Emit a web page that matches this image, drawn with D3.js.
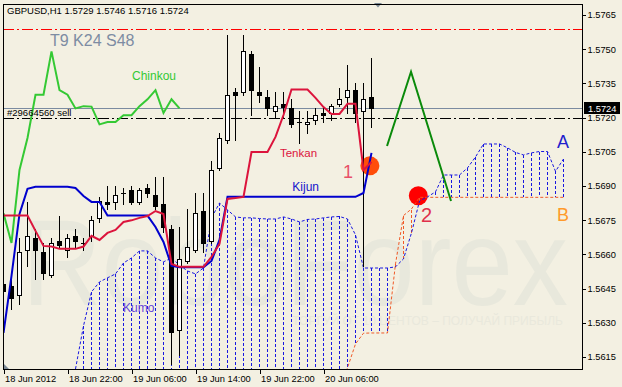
<!DOCTYPE html>
<html>
<head>
<meta charset="utf-8">
<script src="https://cdn.jsdelivr.net/npm/d3@7"></script>
<style>
body { margin: 0; background: #f3f0e2; }
svg { display: block; font-family: "Liberation Sans", Arial, sans-serif; }
</style>
</head>
<body>
<div id="chart-container"></div>
<script>
// GBPUSD H1 candles, 18 Jun 2012 14:00 .. 20 Jun 2012 12:00
var opens  = [1.5647,1.5646,1.5642,1.5662,1.5667,1.5661,1.5651,1.5666,1.5662,1.5668,1.5665,1.5668,1.5676,1.5683,1.5683,1.5687,1.5688,1.5683,1.5689,1.5686,1.5682,1.5671,1.5627,1.5657,1.5662,1.5679,1.5666,1.5698,1.5710,1.5731,1.5731,1.5748,1.5731,1.5729,1.5723,1.5726,1.5724,1.5718,1.5717,1.5719,1.5722,1.5722,1.5726,1.5729,1.5732,1.5723,1.5729];
var highs  = [1.5660,1.5652,1.5667,1.5683,1.5671,1.5665,1.5667,1.5677,1.5669,1.5671,1.5667,1.5677,1.5685,1.5690,1.5690,1.5689,1.5690,1.5689,1.5691,1.5694,1.5694,1.5673,1.5672,1.5680,1.5687,1.5687,1.5701,1.5713,1.5756,1.5733,1.5756,1.5749,1.5742,1.5732,1.5731,1.5731,1.5728,1.5723,1.5723,1.5724,1.5725,1.5726,1.5733,1.5743,1.5735,1.5735,1.5746];
var lows   = [1.5638,1.5636,1.5638,1.5655,1.5649,1.5649,1.5650,1.5663,1.5659,1.5663,1.5662,1.5666,1.5674,1.5680,1.5680,1.5682,1.5682,1.5682,1.5685,1.5680,1.5670,1.5612,1.5616,1.5656,1.5661,1.5661,1.5665,1.5697,1.5709,1.5710,1.5730,1.5721,1.5727,1.5721,1.5720,1.5720,1.5716,1.5709,1.5713,1.5717,1.5718,1.5719,1.5725,1.5722,1.5718,1.5655,1.5716];
var closes = [1.5644,1.5641,1.5661,1.5668,1.5662,1.5652,1.5665,1.5664,1.5667,1.5666,1.5665,1.5675,1.56835,1.5682,1.5686,1.5687,1.5683,1.5688,1.5687,1.5681,1.5672,1.5626,1.5658,1.5663,1.5678,1.5665,1.5697,1.5711,1.5730,1.5730,1.5749,1.5732,1.5730,1.5724,1.5725,1.57248,1.5717,1.5718,1.5718,1.5721,1.5721,1.5725,1.5728,1.5732,1.5722,1.5728,1.5724];

// ichimoku lines
var tenkan = [1.56770,1.56770,1.56770,1.56770,1.56703,1.56637,1.56634,1.56624,1.56624,1.56624,1.56634,1.56681,1.56663,1.56694,1.56707,1.56742,1.56749,1.56760,1.56768,1.56790,1.56777,1.56558,1.56545,1.56545,1.56545,1.56545,1.56589,1.56646,1.56843,1.56847,1.56852,1.57049,1.57049,1.57049,1.57115,1.57211,1.57323,1.57323,1.57323,1.57286,1.57246,1.57216,1.57216,1.57260,1.57260,1.56970,1.57005];
var kijun  = [1.56255,1.56505,1.56777,1.56887,1.56896,1.56896,1.56896,1.56896,1.56896,1.56891,1.56856,1.56830,1.56830,1.56770,1.56770,1.56770,1.56770,1.56770,1.56770,1.56720,1.56654,1.56549,1.56543,1.56543,1.56543,1.56543,1.56571,1.56663,1.56852,1.56852,1.56852,1.56852,1.56852,1.56852,1.56852,1.56852,1.56852,1.56852,1.56852,1.56852,1.56852,1.56852,1.56852,1.56852,1.56852,1.56869,1.57045];
var chinkouShift = 24;

// senkou spans start at bar 9 and run 24 bars past the last candle
var spanStart = 9;
var spanA = [1.56097,1.56286,1.56435,1.56479,1.56497,1.56514,1.56562,1.56584,1.56615,1.56615,1.56584,1.56567,1.56584,1.56553,1.56527,1.56514,1.56540,1.56760,1.56825,1.56795,1.56764,1.56760,1.56760,1.56757,1.56755,1.56755,1.56764,1.56755,1.56742,1.56753,1.56755,1.56760,1.56764,1.56766,1.56755,1.56685,1.56540,1.56540,1.56540,1.56540,1.56545,1.56580,1.56694,1.56834,1.56852,1.56874,1.56948,1.56948,1.56948,1.56979,1.57027,1.57084,1.57084,1.57084,1.57067,1.57047,1.57036,1.57045,1.57051,1.57051,1.56964,1.57018];
var spanB = [1.5600,1.5600,1.5600,1.5600,1.5600,1.5600,1.5600,1.5600,1.5600,1.5600,1.5600,1.5600,1.5600,1.5600,1.5600,1.5600,1.5600,1.5600,1.5600,1.5600,1.5600,1.5600,1.5600,1.5600,1.5600,1.5600,1.5600,1.5600,1.5600,1.5600,1.5600,1.5600,1.5600,1.5600,1.56102,1.56207,1.56254,1.56255,1.56255,1.56255,1.56558,1.56770,1.56799,1.56850,1.56850,1.56850,1.56850,1.56850,1.56850,1.56850,1.56850,1.56850,1.56850,1.56850,1.56850,1.56850,1.56850,1.56850,1.56850,1.56850,1.56850,1.56850];

var timeTicks  = [0, 8, 16, 24, 32, 40];
var timeLabels = ["18 Jun 2012", "18 Jun 22:00", "19 Jun 06:00", "19 Jun 14:00", "19 Jun 22:00", "20 Jun 06:00"];
var priceTicks = [1.5615, 1.5630, 1.5645, 1.5660, 1.5675, 1.5690, 1.5705, 1.5720, 1.5735, 1.5750, 1.5765];

var bidPrice = 1.5724, orderPrice = 1.5720, stopPrice = 1.57587;

// analyst marks (bar index, price)
var circles = [{i: 45.8, p: 1.56988, c: "#ff4d0a"}, {i: 51.85, p: 1.56857, c: "#ff0000"}];
var forecast = [{i: 47.94, p: 1.57075}, {i: 50.94, p: 1.57401}, {i: 55.94, p: 1.56834}];
var labels = [
    {t: "Chinkou", i: 16.06, p: 1.57365, c: "#34c934", s: 12},
    {t: "Tenkan", i: 34.56, p: 1.57027, c: "#dc143c", s: 11.5},
    {t: "Kijun", i: 36.1, p: 1.56878, c: "#1414cc", s: 12},
    {t: "Kumo", i: 14.94, p: 1.56347, c: "#6446d8", s: 12},
    {t: "1", i: 42.44, p: 1.56935, c: "#e85068", s: 18},
    {t: "2", i: 52.19, p: 1.56742, c: "#e0304a", s: 20},
    {t: "A", i: 69.19, p: 1.57067, c: "#2020cc", s: 18},
    {t: "B", i: 69.19, p: 1.56746, c: "#ff9a2a", s: 18}
];

var width = 622, height = 387;
var plotLeft = 3, plotRight = 583, plotTop = 4, plotBottom = 369;

var svg = d3.select("#chart-container")
    .append("svg")
    .attr("width", width)
    .attr("height", height);

svg.append("rect").attr("width", width).attr("height", height).attr("fill", "#f3f0e2");

var x = d3.scaleLinear().domain([0, 70]).range([3.5, 563.5]);
var y = d3.scaleLinear().domain([1.56097, 1.57698]).range([plotBottom, plotTop]);

svg.append("clipPath").attr("id", "clip")
    .append("rect").attr("x", plotLeft).attr("y", plotTop)
    .attr("width", plotRight - plotLeft).attr("height", plotBottom - plotTop);

var plot = svg.append("g").attr("clip-path", "url(#clip)");

// watermark
plot.append("text")
    .attr("x", 22).attr("y", 305)
    .attr("font-size", 122).attr("fill", "#e8e8dc")
    .attr("textLength", 546).attr("lengthAdjust", "spacingAndGlyphs")
    .text("RoboForex");
plot.append("text")
    .attr("x", 563).attr("y", 325).attr("text-anchor", "end")
    .attr("font-size", 12).attr("fill", "#e9e8dc")
    .text("ТОРГУЙ ОТ 10 ЦЕНТОВ – ПОЛУЧАЙ ПРИБЫЛЬ");

// circles behind everything
plot.selectAll("circle.mark").data(circles).enter()
    .append("circle").attr("class", "mark")
    .attr("cx", function(d) { return x(d.i); })
    .attr("cy", function(d) { return y(d.p); })
    .attr("r", 9.5)
    .attr("fill", function(d) { return d.c; });

function hline(p, color, dash) {
    var yy = Math.round(y(p)) + 0.5;
    plot.append("line")
        .attr("x1", plotLeft).attr("x2", plotRight).attr("y1", yy).attr("y2", yy)
        .attr("stroke", color).attr("stroke-width", 1)
        .attr("stroke-dasharray", dash)
        .attr("shape-rendering", "crispEdges");
}
hline(stopPrice, "#ff0000", "11,3,2,3");
hline(orderPrice, "#000000", "11,3,2,3");
hline(bidPrice, "#7b8ba0", null);

// kumo hatch
var cloud = plot.append("g");
spanA.forEach(function(a, k) {
    var b = spanB[k];
    cloud.append("line")
        .attr("x1", x(k + spanStart)).attr("x2", x(k + spanStart))
        .attr("y1", y(a)).attr("y2", y(b))
        .attr("stroke", a >= b ? "#1818e0" : "#f05a28")
        .attr("stroke-width", 1)
        .attr("stroke-dasharray", "3,2")
        .attr("shape-rendering", "crispEdges");
});

var spanLine = d3.line()
    .x(function(d, k) { return x(k + spanStart); })
    .y(function(d) { return y(d); });
cloud.append("path").datum(spanB)
    .attr("fill", "none").attr("stroke", "#f05a28").attr("stroke-width", 1)
    .attr("stroke-dasharray", "3,2").attr("d", spanLine);
cloud.append("path").datum(spanA)
    .attr("fill", "none").attr("stroke", "#1818e0").attr("stroke-width", 1)
    .attr("stroke-dasharray", "3,2").attr("d", spanLine);

// candles
var bars = plot.append("g").attr("shape-rendering", "crispEdges");
opens.forEach(function(o, i) {
    var c = closes[i];
    bars.append("line")
        .attr("x1", x(i)).attr("x2", x(i))
        .attr("y1", Math.round(y(highs[i]))).attr("y2", Math.round(y(lows[i])) + 1)
        .attr("stroke", "#000");
    var t = Math.round(y(Math.max(o, c))), b = Math.round(y(Math.min(o, c)));
    if (b - t < 1) {
        bars.append("line")
            .attr("x1", x(i) - 2.5).attr("x2", x(i) + 2.5)
            .attr("y1", t + 0.5).attr("y2", t + 0.5)
            .attr("stroke", "#000");
    } else {
        bars.append("rect")
            .attr("x", x(i) - 2).attr("y", t + 0.5)
            .attr("width", 4).attr("height", b - t)
            .attr("fill", c >= o ? "#fff" : "#000")
            .attr("stroke", "#000");
    }
});

var line = d3.line()
    .x(function(d, i) { return x(i); })
    .y(function(d) { return y(d); });

plot.append("path").datum(closes.slice(chinkouShift))
    .attr("fill", "none").attr("stroke", "#34c934").attr("stroke-width", 2)
    .attr("d", line);
plot.append("path").datum(kijun)
    .attr("fill", "none").attr("stroke", "#0000cd").attr("stroke-width", 2)
    .attr("d", line);
plot.append("path").datum(tenkan)
    .attr("fill", "none").attr("stroke", "#dc143c").attr("stroke-width", 2)
    .attr("d", line);

// forecast zigzag
plot.append("path").datum(forecast)
    .attr("fill", "none").attr("stroke", "#0a8a0a").attr("stroke-width", 2)
    .attr("d", d3.line().x(function(d) { return x(d.i); }).y(function(d) { return y(d.p); }));

plot.selectAll("text.lbl").data(labels).enter()
    .append("text").attr("class", "lbl")
    .attr("x", function(d) { return x(d.i); })
    .attr("y", function(d) { return y(d.p); })
    .attr("font-size", function(d) { return d.s; })
    .attr("fill", function(d) { return d.c; })
    .text(function(d) { return d.t; });

plot.append("text")
    .attr("x", 50).attr("y", 46)
    .attr("font-size", 16).attr("fill", "#7d8ca3")
    .text("T9 K24 S48");

plot.append("text")
    .attr("x", 7).attr("y", Math.round(y(bidPrice)) + 8)
    .attr("font-size", 9.5).attr("fill", "#000")
    .text("#29664560 sell");

plot.append("text")
    .attr("x", 7).attr("y", 14)
    .attr("font-size", 9.5).attr("fill", "#000")
    .text("GBPUSD,H1  1.5729 1.5746 1.5716 1.5724");

// markers
svg.append("path").attr("d", "M374,3 L382,3 L378,7.5 Z").attr("fill", "#7c8a96");
svg.append("path").attr("d", "M3,363 L3,369 L9,369 Z").attr("fill", "#7c8a96");

// frame
svg.append("rect")
    .attr("x", plotLeft + 0.5).attr("y", plotTop + 0.5)
    .attr("width", plotRight - plotLeft - 1).attr("height", plotBottom - plotTop)
    .attr("fill", "none").attr("stroke", "#000")
    .attr("shape-rendering", "crispEdges");

// axes
var yAxis = d3.axisRight(y).tickValues(priceTicks).tickSize(3).tickPadding(2)
    .tickFormat(d3.format(".4f"));
var gy = svg.append("g")
    .attr("transform", "translate(" + (plotRight - 0.5) + ",0)")
    .call(yAxis);
gy.select(".domain").remove();
gy.selectAll("text").attr("font-size", 9.3).attr("font-family", "Liberation Sans, Arial, sans-serif").attr("fill", "#000");
gy.selectAll("line").attr("shape-rendering", "crispEdges");

var xAxis = d3.axisBottom(x).tickValues(timeTicks).tickSize(4).tickPadding(2)
    .tickFormat(function(d, i) { return timeLabels[i]; });
var gx = svg.append("g")
    .attr("transform", "translate(0," + (plotBottom + 0.5) + ")")
    .call(xAxis);
gx.select(".domain").remove();
gx.selectAll("text").attr("font-size", 9.3).attr("font-family", "Liberation Sans, Arial, sans-serif")
    .attr("fill", "#000").attr("text-anchor", "start").attr("dx", 1);
gx.selectAll("line").attr("shape-rendering", "crispEdges");

// current price tag
var by = Math.round(y(bidPrice));
svg.append("rect").attr("x", 584).attr("y", by - 6).attr("width", 36).attr("height", 12).attr("fill", "#000");
svg.append("text").attr("x", 588).attr("y", by + 4)
    .attr("font-size", 9.3).attr("fill", "#fff")
    .text(d3.format(".4f")(bidPrice));
</script>
</body>
</html>
